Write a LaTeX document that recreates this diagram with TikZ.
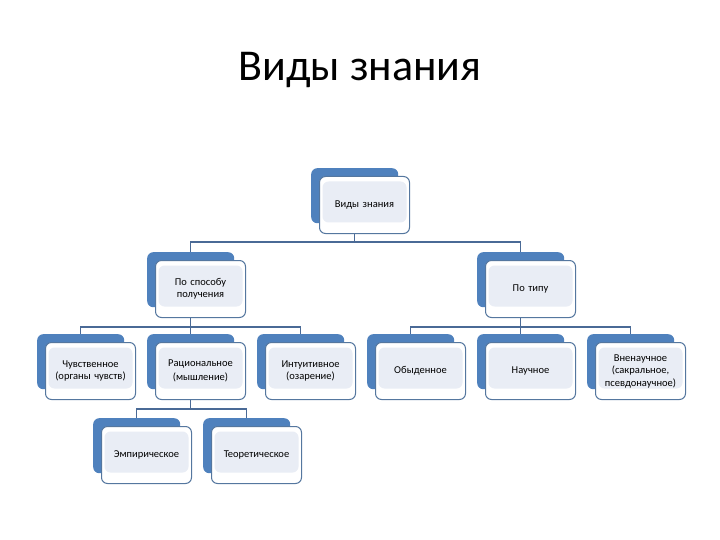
\documentclass[tikz,border=0pt]{standalone}
\usepackage{fontspec}
\setmainfont{Carlito}
\usetikzlibrary{positioning}
\definecolor{boxblue}{HTML}{4F81BD}
\definecolor{frameblue}{HTML}{55779F}
\definecolor{lineblue}{HTML}{4A6A96}
\definecolor{innerfill}{HTML}{E9EDF5}
\tikzstyle{backbox} = [
    rectangle,
    rounded corners=6pt,
    minimum width=87pt,
    minimum height=55pt,
    inner sep=0pt,
    fill=boxblue
]
\tikzstyle{frontbox} = [
    rectangle,
    rounded corners=6pt,
    minimum width=90pt,
    minimum height=57pt,
    text width=86pt,
    align=center,
    inner sep=0pt,
    font=\fontsize{10.5}{12.5}\selectfont,
    fill=white,
    draw=frameblue,
    line width=1pt,
    path picture={\fill[innerfill]
        ([xshift=3pt,yshift=-5pt]path picture bounding box.north west) rectangle
        ([xshift=-3pt,yshift=11pt]path picture bounding box.south east);}
]
\tikzstyle{link} = [draw=lineblue, line width=1.5pt]

\begin{document}
\begin{tikzpicture}[x=1pt, y=1pt]

\useasboundingbox (0,0) rectangle (720,-540);

\node (title) at (360,-70) {\fontsize{44}{52}\selectfont Виды знания};

% level 1
\node (vidyb) [backbox, anchor=north west] at (311,-168) {};
\node (vidy) [frontbox, below right=8pt and 8pt of vidyb.north west] {Виды знания};

% level 2
\node (sposobb) [backbox, anchor=north west] at (147,-252) {};
\node (sposob) [frontbox, below right=8pt and 8pt of sposobb.north west] {По способу\\получения};

\node (tipb) [backbox, anchor=north west] at (477,-252) {};
\node (tip) [frontbox, below right=8pt and 8pt of tipb.north west] {По типу};

% level 3
\node (chuvb) [backbox, anchor=north west] at (37,-334) {};
\node (chuv) [frontbox, below right=8pt and 8pt of chuvb.north west] {Чувственное\\(органы чувств)};

\node (ratsb) [backbox, anchor=north west] at (147,-334) {};
\node (rats) [frontbox, below right=8pt and 8pt of ratsb.north west] {Рациональное\\[2pt](мышление)};

\node (intb) [backbox, anchor=north west] at (257,-334) {};
\node (int) [frontbox, below right=8pt and 8pt of intb.north west] {Интуитивное\\(озарение)};

\node (obydb) [backbox, anchor=north west] at (367,-334) {};
\node (obyd) [frontbox, below right=8pt and 8pt of obydb.north west] {Обыденное};

\node (nauchb) [backbox, anchor=north west] at (477,-334) {};
\node (nauch) [frontbox, below right=8pt and 8pt of nauchb.north west] {Научное};

\node (vnenb) [backbox, anchor=north west] at (587,-334) {};
\node (vnen) [frontbox, below right=8pt and 8pt of vnenb.north west] {Вненаучное\\(сакральное,\\псевдонаучное)};

% level 4
\node (empb) [backbox, anchor=north west] at (93,-418) {};
\node (emp) [frontbox, below right=8pt and 8pt of empb.north west] {Эмпирическое};

\node (teorb) [backbox, anchor=north west] at (203,-418) {};
\node (teor) [frontbox, below right=8pt and 8pt of teorb.north west] {Теоретическое};

\draw [link] (vidy.south -| vidyb.north) -- ++(0,-8) -| (sposobb.north);
\draw [link] (vidy.south -| vidyb.north) -- ++(0,-8) -| (tipb.north);

\draw [link] (sposob.south -| sposobb.north) -- ++(0,-9) -| (chuvb.north);
\draw [link] (sposob.south -| sposobb.north) -- ++(0,-9) -| (ratsb.north);
\draw [link] (sposob.south -| sposobb.north) -- ++(0,-9) -| (intb.north);

\draw [link] (tip.south -| tipb.north) -- ++(0,-9) -| (obydb.north);
\draw [link] (tip.south -| tipb.north) -- ++(0,-9) -| (nauchb.north);
\draw [link] (tip.south -| tipb.north) -- ++(0,-9) -| (vnenb.north);

\draw [link] (rats.south -| ratsb.north) -- ++(0,-9) -| (empb.north);
\draw [link] (rats.south -| ratsb.north) -- ++(0,-9) -| (teorb.north);

\end{tikzpicture}
\end{document}
